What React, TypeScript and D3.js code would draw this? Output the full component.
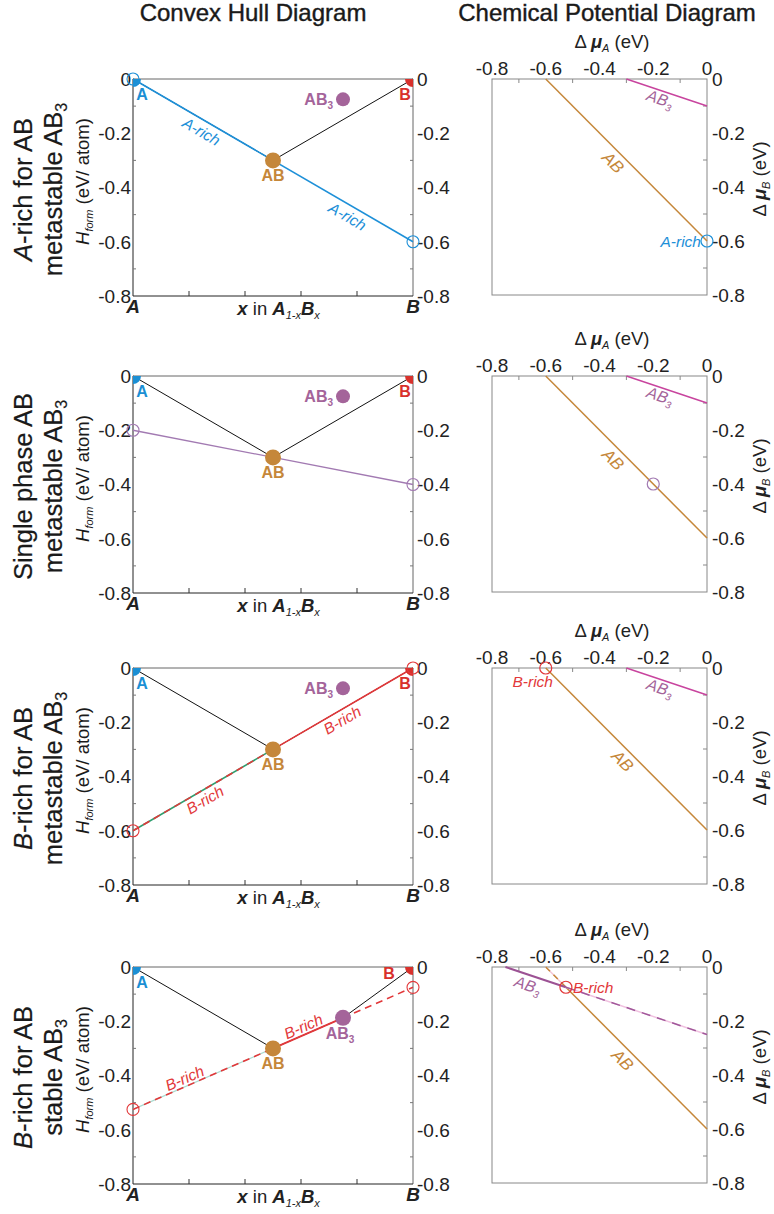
import React from "react";
import * as d3 from "d3";

// compositions (x in A1-xBx) and formation energies
const phases = ["A", "AB", "AB3", "B"];
const phaseX = [0, 0.5, 0.75, 1];
const hAB = -0.3;
const hAB3 = [-0.075, -0.075, -0.075, -0.1875];

// chemical potentials picked in each scenario
const muA = [0, -0.2, -0.6, -0.525];
const muB = [-0.6, -0.4, 0, -0.075];
const richText = ["A-rich", "", "B-rich", "B-rich"];

const energyTicks = [0, -0.2, -0.4, -0.6, -0.8];
const minorTicks = [-0.1, -0.3, -0.5, -0.7];
const xTicks = [0.2, 0.4, 0.6, 0.8];

const FONT = "'Liberation Sans', Arial, Helvetica, sans-serif";
const C_A = "#1b8fd4";
const C_B = "#d8312c";
const C_AB = "#c5873a";
const C_AB3 = "#a4649a";
const C_AB3_LINE = "#c8449e";
const C_RICH = ["#1e90d8", "#a27ab2", "#e2383a", "#e2383a"];

const W = 774;
const H = 1214;
const rowTops = [79, 376, 668, 967];
const hullL = 133, hullR = 413, hullH = 217;
const chemL = 492, chemR = 707, chemH = 216;

const deg = (a: number) => (a * 180) / Math.PI;

const RowLabel = ({ r, top }: { r: number; top: number }) => {
  const cy = top + hullH / 2 + 2;
  const fs = 25.5;
  const first = [
    <tspan key="a">
      <tspan fontStyle="italic">A</tspan>-rich for AB
    </tspan>,
    <tspan key="b">Single phase AB</tspan>,
    <tspan key="c">
      <tspan fontStyle="italic">B</tspan>-rich for AB
    </tspan>,
    <tspan key="d">
      <tspan fontStyle="italic">B</tspan>-rich for AB
    </tspan>,
  ][r];
  const second = r === 3 ? "stable AB" : "metastable AB";
  return (
    <g fontFamily={FONT} fontSize={fs} fill="#1a1a1a" stroke="#1a1a1a" strokeWidth={0.2}>
      <text transform={`translate(32,${cy}) rotate(-90)`} textAnchor="middle">
        {first}
      </text>
      <text transform={`translate(62,${cy}) rotate(-90)`} textAnchor="middle">
        {second}
        <tspan fontSize={16} dy={5}>3</tspan>
      </text>
      <text
        transform={`translate(89,${top + hullH / 2 - 6}) rotate(-90)`}
        textAnchor="middle"
        fontSize={18.5}
        strokeWidth={0}
      >
        <tspan fontStyle="italic">H</tspan>
        <tspan fontStyle="italic" fontSize={11} dy={4}>form</tspan>
        <tspan dy={-4}> (eV/ atom)</tspan>
      </text>
    </g>
  );
};

const HullPanel = ({ r, top }: { r: number; top: number }) => {
  const x = d3.scaleLinear().domain([0, 1]).range([hullL, hullR]);
  const y = d3.scaleLinear().domain([-0.8, 0]).range([top + hullH, top]);
  const hf = [0, hAB, hAB3[r], 0];
  const tan = (c: number) => muA[r] * (1 - c) + muB[r] * c;
  const line = d3
    .line<number[]>()
    .x((d) => x(d[0]))
    .y((d) => y(d[1]));

  const stable = r === 3 ? [0, 1, 2, 3] : [0, 1, 3];
  const hullPts = stable.map((i) => [phaseX[i], hf[i]]);
  const seg = (a: number, b: number) => line([[a, tan(a)], [b, tan(b)]]) as string;
  const col = C_RICH[r];
  const clipId = `hclip${r}`;
  const ang = deg(Math.atan2(y(tan(1)) - y(tan(0)), x(1) - x(0)));

  const richPos = [[0.264, 0.786], [], [0.24, 0.73], [0.196, 0.62]][r];
  const richOff = [11, 0, 9.5, -8][r];

  let tangentMarks: React.ReactNode;
  if (r <= 1) {
    tangentMarks = <path d={seg(0, 1)} stroke={col} strokeWidth={r === 0 ? 1.6 : 1.3} fill="none" />;
  } else if (r === 2) {
    tangentMarks = (
      <g fill="none" strokeWidth={1.6}>
        <path d={seg(0, 0.5)} stroke="#2e9e6e" />
        <path d={seg(0, 0.5)} stroke={col} strokeDasharray="7,5" />
        <path d={seg(0.5, 1)} stroke={col} />
      </g>
    );
  } else {
    tangentMarks = (
      <g fill="none" strokeWidth={1.6}>
        <path d={seg(0, 0.5)} stroke="#a9dbd0" strokeWidth={1.2} />
        <path d={seg(0, 0.5)} stroke={col} strokeDasharray="7,5" />
        <path d={seg(0.5, 0.75)} stroke={col} strokeWidth={2} />
        <path d={seg(0.75, 1)} stroke={col} strokeDasharray="7,5" />
      </g>
    );
  }

  return (
    <g fontFamily={FONT}>
      <defs>
        <clipPath id={clipId}>
          <rect x={hullL} y={top} width={hullR - hullL} height={hullH} />
        </clipPath>
      </defs>
      {/* frame */}
      <line x1={hullL} x2={hullR} y1={top} y2={top} stroke="#666" />
      <line x1={hullR} x2={hullR} y1={top} y2={top + hullH} stroke="#666" />
      <line x1={hullL} x2={hullL} y1={top} y2={top + hullH} stroke="#222" />
      <line x1={hullL} x2={hullR} y1={top + hullH} y2={top + hullH} stroke="#222" />
      {minorTicks.map((t) => (
        <g key={t} stroke="#777">
          <line x1={hullL} x2={hullL + 3} y1={y(t)} y2={y(t)} />
          <line x1={hullR - 3} x2={hullR} y1={y(t)} y2={y(t)} />
        </g>
      ))}
      {xTicks.map((t) => (
        <line key={t} x1={x(t)} x2={x(t)} y1={top + hullH} y2={top + hullH - 5} stroke="#333" />
      ))}
      <g fontSize={19} fill="#222">
        {energyTicks.map((t) => (
          <g key={t}>
            <text x={hullL - 2} y={y(t)} dy="0.36em" textAnchor="end">{String(t)}</text>
            <text x={hullR + 4} y={y(t)} dy="0.36em">{String(t)}</text>
          </g>
        ))}
        <text x={x(0)} y={top + hullH + 17} textAnchor="middle" fontWeight="bold" fontStyle="italic">A</text>
        <text x={x(1)} y={top + hullH + 17} textAnchor="middle" fontWeight="bold" fontStyle="italic">B</text>
        <text x={x(0.52)} y={top + hullH + 19} textAnchor="middle" fontSize={18.5}>
          <tspan fontWeight="bold" fontStyle="italic">x</tspan>
          <tspan> in </tspan>
          <tspan fontWeight="bold" fontStyle="italic">A</tspan>
          <tspan fontStyle="italic" fontSize={11} dy={4}>1-x</tspan>
          <tspan fontWeight="bold" fontStyle="italic" dy={-4}>B</tspan>
          <tspan fontStyle="italic" fontSize={11} dy={4}>x</tspan>
        </text>
      </g>

      {/* hull */}
      <path d={line(hullPts) as string} stroke="#111" strokeWidth={1} fill="none" />
      {tangentMarks}

      {/* end elements, clipped to the axes */}
      <g clipPath={`url(#${clipId})`}>
        <circle cx={x(0)} cy={y(0)} r={8} fill={C_A} />
        <circle cx={x(1)} cy={y(0)} r={8} fill={C_B} />
      </g>
      <circle cx={x(phaseX[1])} cy={y(hf[1])} r={8} fill={C_AB} />
      <circle cx={x(phaseX[2])} cy={y(hf[2])} r={r === 3 ? 8 : 7} fill={C_AB3} />

      {/* tangent end markers */}
      <circle cx={x(0)} cy={y(tan(0))} r={6} fill="none" stroke={col} strokeWidth={1.1} />
      <circle cx={x(1)} cy={y(tan(1))} r={6} fill="none" stroke={col} strokeWidth={1.1} />

      {/* phase labels */}
      <g fontSize={16} fontWeight="bold">
        <text x={x(0) + 9} y={top + 21} textAnchor="middle" fill={C_A}>{phases[0]}</text>
        {r === 3 ? (
          <text x={x(1) - 24} y={top + 12} textAnchor="middle" fill={C_B}>{phases[3]}</text>
        ) : (
          <text x={x(1) - 8} y={top + 21} textAnchor="middle" fill={C_B}>{phases[3]}</text>
        )}
        <text x={x(phaseX[1])} y={y(hf[1]) + 21} textAnchor="middle" fill={C_AB}>AB</text>
        {r === 3 ? (
          <text x={x(phaseX[2]) - 3} y={y(hf[2]) + 21} textAnchor="middle" fill={C_AB3}>
            AB<tspan fontSize={10} dy={4}>3</tspan>
          </text>
        ) : (
          <text x={x(phaseX[2]) - 10} y={y(hf[2]) + 6} textAnchor="end" fill={C_AB3}>
            AB<tspan fontSize={10} dy={4}>3</tspan>
          </text>
        )}
      </g>

      {richPos.map((c) => (
        <text
          key={c}
          transform={`translate(${x(c)},${y(tan(c))}) rotate(${ang})`}
          y={richOff}
          dy="0.35em"
          textAnchor="middle"
          fontSize={15.5}
          fontStyle="italic"
          fill={col}
        >
          {richText[r]}
        </text>
      ))}
    </g>
  );
};

const ChemPanel = ({ r, top }: { r: number; top: number }) => {
  const mx = d3.scaleLinear().domain([-0.8, 0]).range([chemL, chemR]);
  const my = d3.scaleLinear().domain([-0.8, 0]).range([top + chemH, top]);
  const line = d3
    .line<number[]>()
    .x((d) => mx(d[0]))
    .y((d) => my(d[1]));

  // AB: muA + muB = 2 H(AB); AB3: muA + 3 muB = 4 H(AB3)
  const abB = (a: number) => 2 * hAB - a;
  const ab3B = (a: number) => (4 * hAB3[r] - a) / 3;
  const abSeg = (a0: number, a1: number) => line([[a0, abB(a0)], [a1, abB(a1)]]) as string;
  const ab3Seg = (a0: number, a1: number) => line([[a0, ab3B(a0)], [a1, ab3B(a1)]]) as string;
  const abStart = 2 * hAB;
  const ab3Start = 4 * hAB3[r];
  const col = C_RICH[r];
  const cx = mx(muA[r]);
  const cy = my(muB[r]);

  const abAng = deg(Math.atan2(my(abB(0)) - my(abB(abStart)), mx(0) - mx(abStart)));
  const ab3Ang = deg(Math.atan2(my(ab3B(0)) - my(ab3B(ab3Start)), mx(0) - mx(ab3Start)));
  const abLab = r < 2 ? -0.32 : -0.285;
  const ab3Lab = r < 3 ? -0.165 : -0.655;

  return (
    <g fontFamily={FONT}>
      <rect x={chemL} y={top} width={chemR - chemL} height={chemH} fill="none" stroke="#888" />
      {minorTicks.map((t) => (
        <g key={t} stroke="#888">
          <line x1={mx(t)} x2={mx(t)} y1={top} y2={top + 4} />
          <line x1={chemR - 4} x2={chemR} y1={my(t)} y2={my(t)} />
        </g>
      ))}
      <g fontSize={19} fill="#222">
        {energyTicks.map((t) => (
          <g key={t}>
            <text x={mx(t)} y={top - 4} textAnchor="middle">{String(t)}</text>
            <text x={chemR + 5} y={my(t)} dy="0.36em">{String(t)}</text>
          </g>
        ))}
        <text x={612} y={top - 31} textAnchor="middle" fontSize={18.5}>
          Δ <tspan fontStyle="italic" fontWeight="bold">μ</tspan>
          <tspan fontStyle="italic" fontSize={11} dy={4}>A</tspan>
          <tspan dy={-4}> (eV)</tspan>
        </text>
        <text transform={`translate(766,${top + 100}) rotate(-90)`} textAnchor="middle" fontSize={18.5}>
          Δ <tspan fontStyle="italic" fontWeight="bold">μ</tspan>
          <tspan fontStyle="italic" fontSize={11} dy={4}>B</tspan>
          <tspan dy={-4}> (eV)</tspan>
        </text>
      </g>

      {r < 3 ? (
        <g fill="none" strokeWidth={1.5}>
          <path d={abSeg(abStart, 0)} stroke={C_AB} />
          <path d={ab3Seg(ab3Start, 0)} stroke={C_AB3_LINE} />
        </g>
      ) : (
        <g fill="none" strokeWidth={1.5}>
          <path d={abSeg(abStart, muA[r])} stroke="#f2c6d6" />
          <path d={abSeg(abStart, muA[r])} stroke={C_AB} strokeDasharray="6,5" />
          <path d={abSeg(muA[r], 0)} stroke={C_AB} />
          <path d={ab3Seg(ab3Start, muA[r])} stroke="#9c5294" strokeWidth={2} />
          <path d={ab3Seg(muA[r], 0)} stroke="#f0c2e0" />
          <path d={ab3Seg(muA[r], 0)} stroke="#a0589a" strokeDasharray="9,7" />
        </g>
      )}

      <circle cx={cx} cy={cy} r={6} fill="none" stroke={col} strokeWidth={1.2} />

      <text
        transform={`translate(${mx(abLab)},${my(abB(abLab))}) rotate(${abAng})`}
        y={11}
        dy="0.35em"
        textAnchor="middle"
        fontSize={17}
        fontStyle="italic"
        fill={C_AB}
      >
        AB
      </text>
      <text
        transform={`translate(${mx(ab3Lab)},${my(ab3B(ab3Lab))}) rotate(${ab3Ang})`}
        y={r < 3 ? 8 : 10}
        dy="0.35em"
        textAnchor="middle"
        fontSize={16}
        fontStyle="italic"
        fill={C_AB3}
      >
        AB<tspan fontSize={10} dy={4}>3</tspan>
      </text>

      {r === 0 && (
        <text x={cx - 6} y={cy} dy="0.36em" textAnchor="end" fontSize={15.5} fontStyle="italic" fill={col}>
          {richText[r]}
        </text>
      )}
      {r === 2 && (
        <text x={cx - 13} y={cy + 19} textAnchor="middle" fontSize={15.5} fontStyle="italic" fill={col}>
          {richText[r]}
        </text>
      )}
      {r === 3 && (
        <text x={cx + 7} y={cy} dy="0.36em" fontSize={15.5} fontStyle="italic" fill={col}>
          {richText[r]}
        </text>
      )}
    </g>
  );
};

export default function App() {
  return (
    <svg width={W} height={H} style={{ display: "block", position: "absolute", left: 0, top: 0 }}>
      <rect width={W} height={H} fill="#fff" />
      <g fontFamily={FONT} fontSize={24} fill="#1a1a1a" stroke="#1a1a1a" strokeWidth={0.4} textAnchor="middle">
        <text x={253} y={21}>Convex Hull Diagram</text>
        <text x={607} y={21}>Chemical Potential Diagram</text>
      </g>
      {rowTops.map((top, r) => (
        <g key={r}>
          <RowLabel r={r} top={top} />
          <HullPanel r={r} top={top} />
          <ChemPanel r={r} top={top} />
        </g>
      ))}
    </svg>
  );
}
